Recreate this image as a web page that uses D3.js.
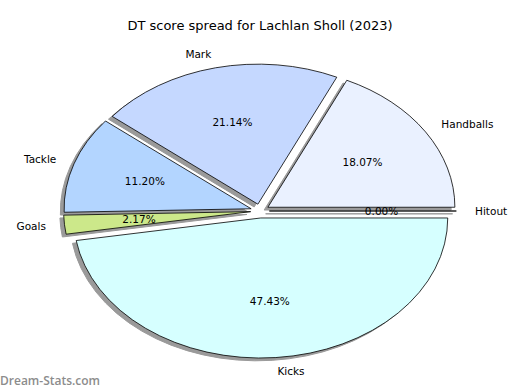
<!DOCTYPE html>
<html>
<head>
<meta charset="utf-8">
<script src="https://cdn.jsdelivr.net/npm/d3@7"></script>
<style>
  body { margin: 0; background: #fff; }
  text { font-family: "DejaVu Sans", sans-serif; fill: #000; }
</style>
</head>
<body>
<div id="page-container"></div>
<script>

  var labels = ["Handballs", "Mark", "Tackle", "Goals", "Kicks", "Hitout"];
  var shares = [18.07, 21.14, 11.20, 2.17, 47.43, 0.00];
  var colours = ["#eaf1ff", "#c5d8ff", "#b3d5ff", "#cce88a", "#d6ffff", "#f2f2ff"];

  var width = 520, height = 390;
  var cx = 260, cy = 211,
      rx = 187, ry = 140,
      explode = 0.05;

  var svg = d3.select("#page-container").append("svg")
      .attr("width", width)
      .attr("height", height);

  svg.append("text")
      .attr("x", width / 2)
      .attr("y", 30)
      .attr("text-anchor", "middle")
      .style("font-size", "13px")
      .text("DT score spread for Lachlan Sholl (2023)");

  // counter-clockwise from 3 o'clock, like matplotlib
  var pie = d3.pie()
      .value(d => d)
      .sort(null)
      .startAngle(Math.PI / 2)
      .endAngle(Math.PI / 2 - 2 * Math.PI);

  var arcs = pie(shares);

  var arc = d3.arc().innerRadius(0).outerRadius(1);

  // offset of each exploded wedge
  var off = arcs.map(d => {
    var a = (d.startAngle + d.endAngle) / 2;
    return {a: a, x: cx + explode * rx * Math.sin(a), y: cy - explode * ry * Math.cos(a)};
  });

  var g = svg.append("g");

  // shadows first, so every wedge sits on top of them
  arcs.forEach((d, i) => {
    var o = off[i];
    g.append("path")
        .attr("d", arc(d))
        .attr("transform", "translate(" + (o.x - 0.02 * rx) + "," + (o.y + 0.02 * ry) + ") scale(" + rx + "," + ry + ")")
        .attr("fill", "#9a9a9a")
        .attr("stroke", "#9a9a9a")
        .attr("stroke-width", 1)
        .attr("vector-effect", "non-scaling-stroke");
  });

  arcs.forEach((d, i) => {
    var o = off[i];
    g.append("path")
        .attr("d", arc(d))
        .attr("transform", "translate(" + o.x + "," + o.y + ") scale(" + rx + "," + ry + ")")
        .attr("fill", colours[i])
        .attr("stroke", "#000")
        .attr("stroke-width", 0.8)
        .attr("vector-effect", "non-scaling-stroke");
  });

  arcs.forEach((d, i) => {
    var o = off[i];
    var sx = Math.sin(o.a), sy = -Math.cos(o.a);
    svg.append("text")
        .attr("x", o.x + 1.1 * rx * sx)
        .attr("y", o.y + 1.1 * ry * sy)
        .attr("dy", "0.35em")
        .attr("text-anchor", sx > 0 ? "start" : "end")
        .style("font-size", "10.5px")
        .text(labels[i]);
    svg.append("text")
        .attr("x", o.x + 0.6 * rx * sx)
        .attr("y", o.y + 0.6 * ry * sy)
        .attr("dy", "0.35em")
        .attr("text-anchor", "middle")
        .style("font-size", "10.5px")
        .text(d3.format(".2f")(d.data) + "%");
  });

  svg.append("text")
      .attr("x", 0)
      .attr("y", 385)
      .style("font-size", "12px")
      .style("font-weight", "600")
      .style("fill", "#8c8c8c")
      .style("font-family", "'Open Sans', sans-serif")
      .text("Dream-Stats.com");

</script>
</body>
</html>
